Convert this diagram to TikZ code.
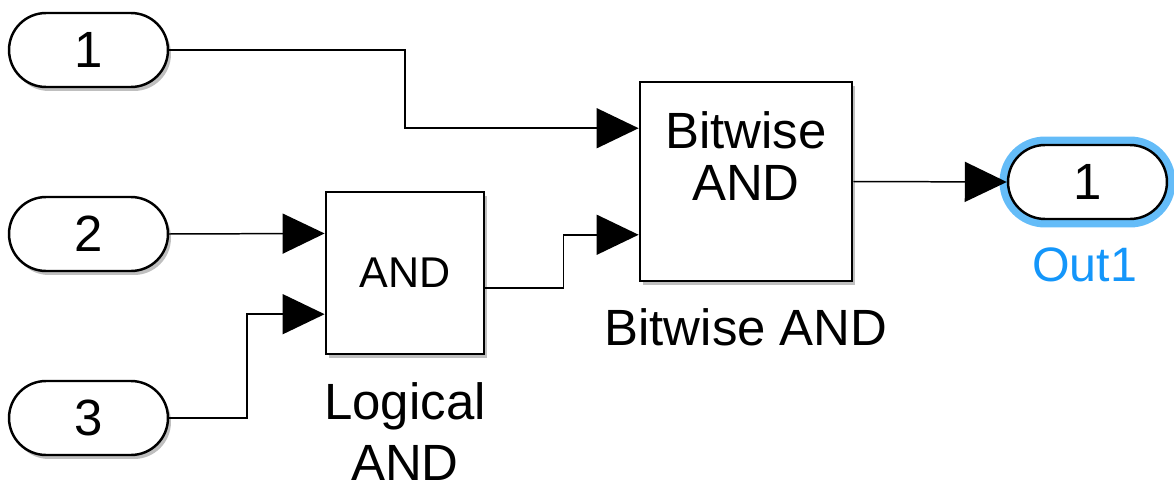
\documentclass[tikz,border=0pt]{standalone}
\usepackage{fontspec}
\setmainfont{Liberation Sans}
\usetikzlibrary{arrows.meta,shapes,positioning,shadows,calc}

\definecolor{haloblue}{RGB}{100,188,248}
\definecolor{outblue}{RGB}{20,150,250}

\begin{document}
\begin{tikzpicture}[x=0.02cm,y=-0.02cm,
	port/.style={draw, line width=1.4pt, fill=white, rounded corners=0.74cm,
		minimum width=3.18cm, minimum height=1.48cm, inner sep=0pt,
		font=\fontsize{29}{35}\selectfont},
	blk/.style={draw, line width=1.6pt, fill=white, inner sep=0pt},
	shade/.style={drop shadow={shadow xshift=0.06cm, shadow yshift=-0.08cm, opacity=0.25, fill=black}},
	wire/.style={line width=0.85pt, -{Triangle[length=0.84cm, width=0.8cm]}},
	lbl/.style={font=\fontsize{29}{35}\selectfont, align=center, inner sep=0pt}]
	\useasboundingbox (0,0) rectangle (1174,480);
	
	% Inports
	\node[port, shade] (in1) at (88.5,50) {1};
	\node[port, shade] (in2) at (88.5,234) {2};
	\node[port, shade] (in3) at (88.5,418) {3};
	
	% Logical AND block
	\node[blk, shade, minimum width=3.16cm, minimum height=3.24cm,
		font=\fontsize{24.5}{30}\selectfont] (land) at (405,273) {AND};
	\node[lbl, anchor=north] (landname) at (405,382) {Logical\\AND};
	
	% Bitwise AND block
	\node[blk, shade, minimum width=4.24cm, minimum height=3.98cm] (bw) at (746,181.5) {};
	\node[lbl, font=\fontsize{29}{29.5}\selectfont] (bwtxt) at (746,156) {Bitwise\\AND};
	\node[lbl, anchor=base] (bwname) at (746,345) {Bitwise AND};
	
	% Outport with selection halo
	\node[port, preaction={draw=haloblue, line width=0.34cm}] (out) at (1087.5,182) {1};
	\node[lbl, anchor=base, text=outblue, font=\fontsize{27.5}{33}\selectfont] (outname) at (1084.5,281) {Out1};
	
	% Ports
	\coordinate (landin1) at ($(land.north west)!.26!(land.south west)$);
	\coordinate (landin2) at ($(land.north west)!.75!(land.south west)$);
	\coordinate (landout) at ($(land.north east)!.59!(land.south east)$);
	\coordinate (bwin1) at ($(bw.north west)!.236!(bw.south west)$);
	\coordinate (bwin2) at ($(bw.north west)!.764!(bw.south west)$);
	
	% Signal lines
	\draw[wire] (in1.east) -- ++(236,0) |- (bwin1);
	\draw[wire] (in2.east) -- (landin1);
	\draw[wire] (in3.east) -- ++(78,0) |- (landin2);
	\draw[wire] (landout) -- ++(78,0) |- (bwin2);
	\draw[wire] (bw.east) -- (out.west);
\end{tikzpicture}
\end{document}
